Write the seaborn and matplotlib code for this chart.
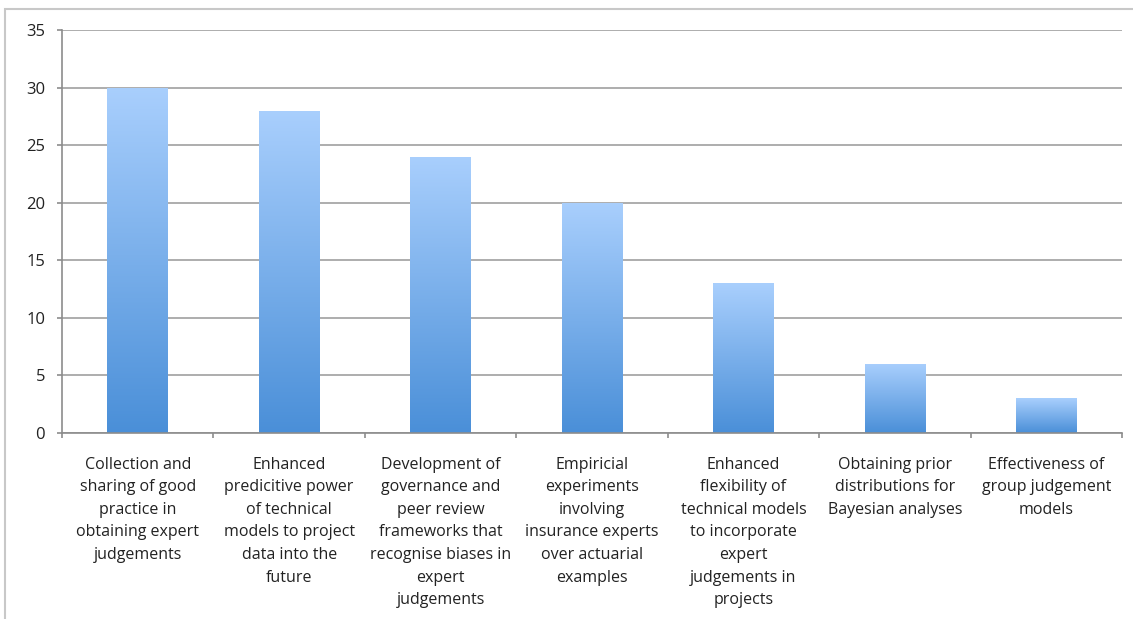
import numpy as np
import pandas as pd
import matplotlib
matplotlib.use("Agg")
import matplotlib.pyplot as plt
import seaborn as sns
from matplotlib.colors import LinearSegmentedColormap
from matplotlib.patches import Rectangle

categories = [
    "Collection and\nsharing of good\npractice in\nobtaining expert\njudgements",
    "Enhanced\npredicitive power\nof technical\nmodels to project\ndata into the\nfuture",
    "Development of\ngovernance and\npeer review\nframeworks that\nrecognise biases in\nexpert\njudgements",
    "Empiricial\nexperiments\ninvolving\ninsurance experts\nover actuarial\nexamples",
    "Enhanced\nflexibility of\ntechnical models\nto incorporate\nexpert\njudgements in\nprojects",
    "Obtaining prior\ndistributions for\nBayesian analyses",
    "Effectiveness of\ngroup judgement\nmodels",
]
counts = [30, 28, 24, 20, 13, 6, 3]
yticks = [0, 5, 10, 15, 20, 25, 30, 35]

sns.set_theme(style="white")
plt.rcParams["font.family"] = ["Open Sans", "DejaVu Sans"]

df = pd.DataFrame({"item": categories, "count": counts})

fig = plt.figure(figsize=(11.33, 6.19), dpi=100)
ax = fig.add_axes([62 / 1133, 1 - 433 / 619, (1122 - 62) / 1133, (433 - 30) / 619])

sns.barplot(data=df, x="item", y="count", ax=ax, width=0.4, color="#7fb1ec",
            edgecolor="none", linewidth=0)

# vertical blue gradient inside each bar
cmap = LinearSegmentedColormap.from_list("bar", ["#4a8fd8", "#a9cffd"])
grad = np.linspace(0, 1, 256).reshape(-1, 1)
for p in ax.patches:
    x0, y0 = p.get_x(), p.get_y()
    w, h = p.get_width(), p.get_height()
    p.set_facecolor("none")
    im = ax.imshow(grad, cmap=cmap, origin="lower", aspect="auto",
                   extent=(x0, x0 + w, y0, y0 + h), zorder=2,
                   interpolation="bilinear")
    im.set_clip_path(p)

ax.set_xlim(-0.5, len(categories) - 0.5)
ax.set_ylim(0, 35)
ax.set_yticks(yticks)
ax.set_yticklabels([str(v) for v in yticks])
ax.yaxis.grid(True, color="#a0a0a0", linewidth=1.2)
ax.set_axisbelow(True)
ax.set_xlabel("")
ax.set_ylabel("")

for s in ["top", "right"]:
    ax.spines[s].set_visible(False)
for s in ["left", "bottom"]:
    ax.spines[s].set_color("#8c8c8c")
    ax.spines[s].set_linewidth(1.2)

# category ticks sit on the boundaries between bars
ax.set_xticks(np.arange(-0.5, len(categories), 1.0))
ax.set_xticklabels([])
ax.set_xticks(np.arange(len(categories)), labels=categories, minor=True)
ax.tick_params(axis="x", which="major", length=3.6, width=1.2, color="#8c8c8c",
               direction="out", bottom=True)
ax.tick_params(axis="x", which="minor", length=0, pad=17, labelsize=11.5,
               labelcolor="#222222")
ax.tick_params(axis="y", length=3.6, width=1.2, color="#8c8c8c", direction="out",
               left=True, labelsize=12, labelcolor="#222222", pad=8.5)
for lbl in ax.get_xticklabels(minor=True):
    lbl.set_linespacing(1.55)
    lbl.set_horizontalalignment("center")
    lbl.set_verticalalignment("top")

# light frame around the chart area
fig.patches.append(Rectangle((5 / 1133, -0.1), 1.2, 1 - 9 / 619 + 0.1,
                             transform=fig.transFigure, fill=False,
                             edgecolor="#c8c8c8", linewidth=1.5))

fig.savefig("out.png", dpi=100)
